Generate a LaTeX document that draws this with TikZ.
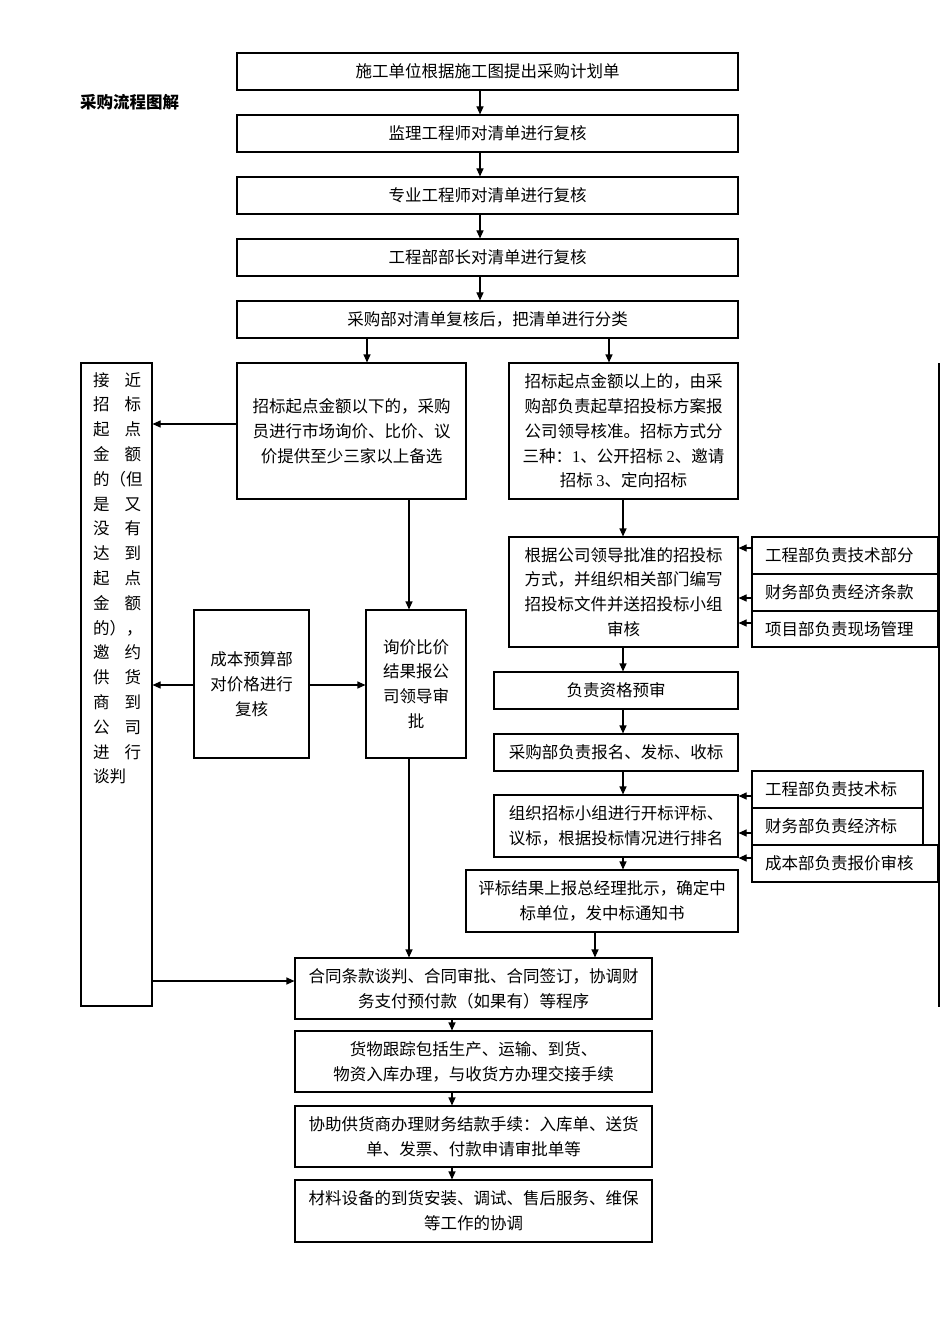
\documentclass[tikz,border=0pt]{standalone}
\usepackage{fontspec}
\setmainfont{Noto Sans CJK SC}
\newfontfamily\tms{Liberation Serif}
\usetikzlibrary{arrows.meta}
\newcommand\bx[6]{\node[box,minimum width={(#4-#2)*1pt},minimum height={(#5-#3)*1pt}] (#1) at ({(#2+#4)/2},{(#3+#5)/2}) {#6};}
\begin{document}
\begin{tikzpicture}[x=1pt,y=-1pt,
  box/.style={draw,line width=1.1pt,inner sep=0pt,align=center,font=\fontsize{16.5}{24.8}\selectfont},
  sbox/.style={draw,line width=1.1pt,inner ysep=0pt,inner xsep=13pt,align=left,font=\fontsize{16.5}{24.8}\selectfont},
  arr/.style={line width=1.1pt,-{Triangle[length=8pt,width=7pt]}},
  ltxt/.style={anchor=base west,inner sep=0pt,font=\fontsize{16.5}{24.8}\selectfont}]
\fill[white] (0,0) rectangle (945,1337);
\useasboundingbox (0,0) rectangle (945,1337);
\node[anchor=west,inner sep=0pt,font=\fontsize{16.5}{20}\selectfont\bfseries] (title) at (80,102) {采购流程图解};
\bx{b1}{237}{53}{738}{90}{施工单位根据施工图提出采购计划单}
\bx{b2}{237}{115}{738}{152}{监理工程师对清单进行复核}
\bx{b3}{237}{177}{738}{214}{专业工程师对清单进行复核}
\bx{b4}{237}{239}{738}{276}{工程部部长对清单进行复核}
\bx{b5}{237}{301}{738}{338}{采购部对清单复核后，把清单进行分类}
\bx{b6}{237}{363}{466}{499}{招标起点金额以下的，采购\\员进行市场询价、比价、议\\价提供至少三家以上备选}
\bx{b7}{509}{363}{738}{499}{招标起点金额以上的，由采\\购部负责起草招投标方案报\\公司领导核准。招标方式分\\三种：{\tms 1}、公开招标~{\tms 2}、邀请\\招标~{\tms 3}、定向招标}
\bx{b8}{509}{537}{738}{647}{根据公司领导批准的招投标\\方式，并组织相关部门编写\\招投标文件并送招投标小组\\审核}
\bx{b9}{494}{672}{738}{709}{负责资格预审}
\bx{b10}{494}{734}{738}{771}{采购部负责报名、发标、收标}
\bx{b11}{494}{795}{738}{857}{组织招标小组进行开标评标、\\议标，根据投标情况进行排名}
\bx{b12}{466}{870}{738}{932}{评标结果上报总经理批示，确定中\\标单位，发中标通知书}
\bx{cst}{194}{610}{309}{758}{成本预算部\\对价格进行\\复核}
\bx{q}{366}{610}{466}{758}{询价比价\\结果报公\\司领导审\\批}
\bx{ct}{295}{958}{652}{1019}{合同条款谈判、合同审批、合同签订，协调财\\务支付预付款（如果有）等程序}
\bx{g1}{295}{1031}{652}{1092}{货物跟踪包括生产、运输、到货、\\物资入库办理，与收货方办理交接手续}
\bx{g2}{295}{1106}{652}{1167}{协助供货商办理财务结款手续：入库单、送货\\单、发票、付款申请审批单等}
\bx{g3}{295}{1180}{652}{1242}{材料设备的到货安装、调试、售后服务、维保\\等工作的协调}
\bx{L}{81}{363}{152}{1006}{}
% side boxes
\node[sbox,text width=160pt,minimum height=37pt] (s1) at (845,555.5) {工程部负责技术部分};
\node[sbox,text width=160pt,minimum height=37pt] (s2) at (845,592.5) {财务部负责经济条款};
\node[sbox,text width=160pt,minimum height=36pt] (s3) at (845,629) {项目部负责现场管理};
\node[sbox,text width=145pt,minimum height=37pt] (s4) at (837.5,789.5) {工程部负责技术标};
\node[sbox,text width=145pt,minimum height=37pt] (s5) at (837.5,826.5) {财务部负责经济标};
\node[sbox,text width=160pt,minimum height=37pt] (s6) at (845,863.5) {成本部负责报价审核};
% left column text
\foreach \t [count=\i] in {{接\hfill 近},{招\hfill 标},{起\hfill 点},{金\hfill 额},{的（但},{是\hfill 又},{没\hfill 有},{达\hfill 到},{起\hfill 点},{金\hfill 额},{的），},{邀\hfill 约},{供\hfill 货},{商\hfill 到},{公\hfill 司},{进\hfill 行},{谈判\hfill}}
  \node[ltxt] (lt\i) at (93,{386+(\i-1)*24.8}) {\makebox[48pt][l]{\t}};
% helper coordinates
\coordinate (X480) at (480,0);
\coordinate (X367) at (367,0);
\coordinate (X609) at (609,0);
\coordinate (X623) at (623,0);
\coordinate (X595) at (595,0);
\coordinate (X409) at (409,0);
\coordinate (X452) at (452,0);
\coordinate (Y424) at (0,424);
\coordinate (Y685) at (0,685);
\coordinate (Y981) at (0,981);
\coordinate (Y548) at (0,548);
\coordinate (Y598) at (0,598);
\coordinate (Y623) at (0,623);
\coordinate (Y796) at (0,796);
\coordinate (Y833) at (0,833);
\coordinate (Y858) at (0,858);
\coordinate (r1) at (939,363);
\coordinate (r2) at (939,1007);
\draw[line width=1.3pt] (r1) -- (r2);
% vertical arrows
\foreach \a/\b in {b1/b2,b2/b3,b3/b4,b4/b5}
  \draw[arr] (\a.south -| X480) -- (\b.north -| X480);
\draw[arr] (b5.south -| X367) -- (b6.north -| X367);
\draw[arr] (b5.south -| X609) -- (b7.north -| X609);
\foreach \a/\b in {b7/b8,b8/b9,b9/b10,b10/b11,b11/b12}
  \draw[arr] (\a.south -| X623) -- (\b.north -| X623);
\draw[arr] (b12.south -| X595) -- (ct.north -| X595);
\draw[arr] (b6.south -| X409) -- (q.north -| X409);
\draw[arr] (q.south -| X409) -- (ct.north -| X409);
\foreach \a/\b in {ct/g1,g1/g2,g2/g3}
  \draw[arr] (\a.south -| X452) -- (\b.north -| X452);
% horizontal arrows
\draw[arr] (b6.west |- Y424) -- (L.east |- Y424);
\draw[arr] (cst.west |- Y685) -- (L.east |- Y685);
\draw[arr] (cst.east |- Y685) -- (q.west |- Y685);
\draw[arr] (L.east |- Y981) -- (ct.west |- Y981);
\draw[arr] (s1.west |- Y548) -- (b8.east |- Y548);
\draw[arr] (s2.west |- Y598) -- (b8.east |- Y598);
\draw[arr] (s3.west |- Y623) -- (b8.east |- Y623);
\draw[arr] (s4.west |- Y796) -- (b11.east |- Y796);
\draw[arr] (s5.west |- Y833) -- (b11.east |- Y833);
\draw[arr] (s6.west |- Y858) -- (b11.east |- Y858);
\end{tikzpicture}
\end{document}
